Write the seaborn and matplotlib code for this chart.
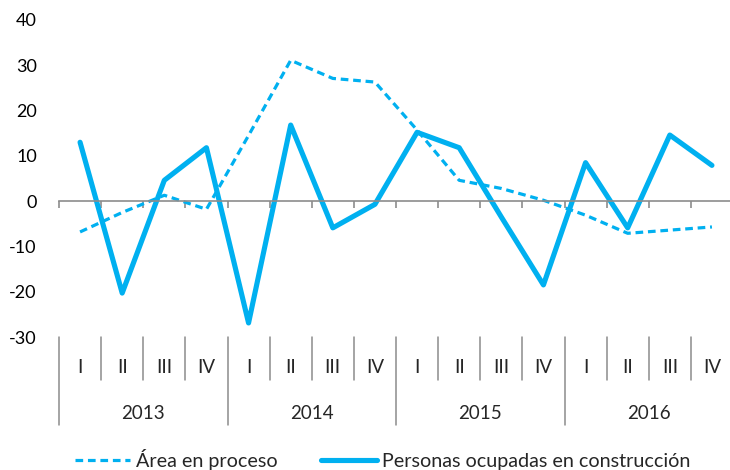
import numpy as np
import pandas as pd
import matplotlib
matplotlib.use("Agg")
import matplotlib.pyplot as plt
import seaborn as sns

# datos (variacion anual, %)
years = ["2013", "2014", "2015", "2016"]
quarters = ["I", "II", "III", "IV"]
area_proceso = [-6.8, -2.5, 1.3, -1.8, 14.5, 31.1, 27.1, 26.3,
                15.7, 4.6, 2.8, 0.2, -3.1, -7.1, -6.4, -5.7]
personas_ocupadas = [13.0, -20.3, 4.6, 11.8, -26.9, 16.8, -5.9, -0.7,
                     15.2, 11.8, -3.5, -18.5, 8.5, -5.9, 14.6, 7.9]
yticks = [-30, -20, -10, 0, 10, 20, 30, 40]

color = "#00B0F0"
grey = "#8C8C8C"

sns.set_theme(style="white")
plt.rcParams["font.family"] = ["Lato", "DejaVu Sans"]

df = pd.DataFrame({
    "t": np.arange(len(area_proceso)),
    "area": area_proceso,
    "personas": personas_ocupadas,
})

fig = plt.figure(figsize=(7.3, 4.7), dpi=100)
ax = fig.add_axes([59 / 730, 133 / 470, 674 / 730, 317 / 470])

sns.lineplot(data=df, x="t", y="area", ax=ax, color=color, linewidth=2.3,
             label="Área en proceso")
ax.lines[-1].set_dashes((2.4, 1.5))
sns.lineplot(data=df, x="t", y="personas", ax=ax, color=color, linewidth=3.7,
             label="Personas ocupadas en construcción")

ax.set_xlim(-0.5, len(area_proceso) - 0.5)
ax.set_ylim(-30, 40)
ax.set_yticks(yticks)
ax.set_yticklabels([str(v) for v in yticks])
ax.tick_params(axis="y", length=0, pad=16, labelsize=13, labelcolor="black")
ax.set_xlabel("")
ax.set_ylabel("")

# eje x en cero con marcas entre trimestres
for s in ["top", "right", "left"]:
    ax.spines[s].set_visible(False)
ax.spines["bottom"].set_position(("data", 0))
ax.spines["bottom"].set_color(grey)
ax.spines["bottom"].set_linewidth(1.2)
ax.set_xticks(np.arange(-0.5, len(area_proceso), 1.0))
ax.set_xticklabels([])
ax.tick_params(axis="x", direction="out", length=5, width=1.2, color=grey, bottom=True)

# eje de categorias en dos niveles bajo el grafico
n = len(area_proceso)
for i in range(n + 1):
    x = i - 0.5
    low = -49.4 if i % 4 == 0 else -39.5
    ax.plot([x, x], [-30, low], color=grey, linewidth=1.1, clip_on=False)
for i in range(n):
    ax.text(i, -36.8, quarters[i % 4], ha="center", va="center", fontsize=13.5)
for j, yr in enumerate(years):
    ax.text(j * 4 + 1.5, -46.8, yr, ha="center", va="center", fontsize=13.5)

ax.get_legend().remove()
handles, labels = ax.get_legend_handles_labels()
fig.legend(handles, labels, loc="center", bbox_to_anchor=(383 / 730, 1 - 459 / 470),
           ncol=2, frameon=False, fontsize=14.2, handlelength=2.8,
           handletextpad=0.3, columnspacing=2.2)

fig.savefig("out.png", dpi=100)
